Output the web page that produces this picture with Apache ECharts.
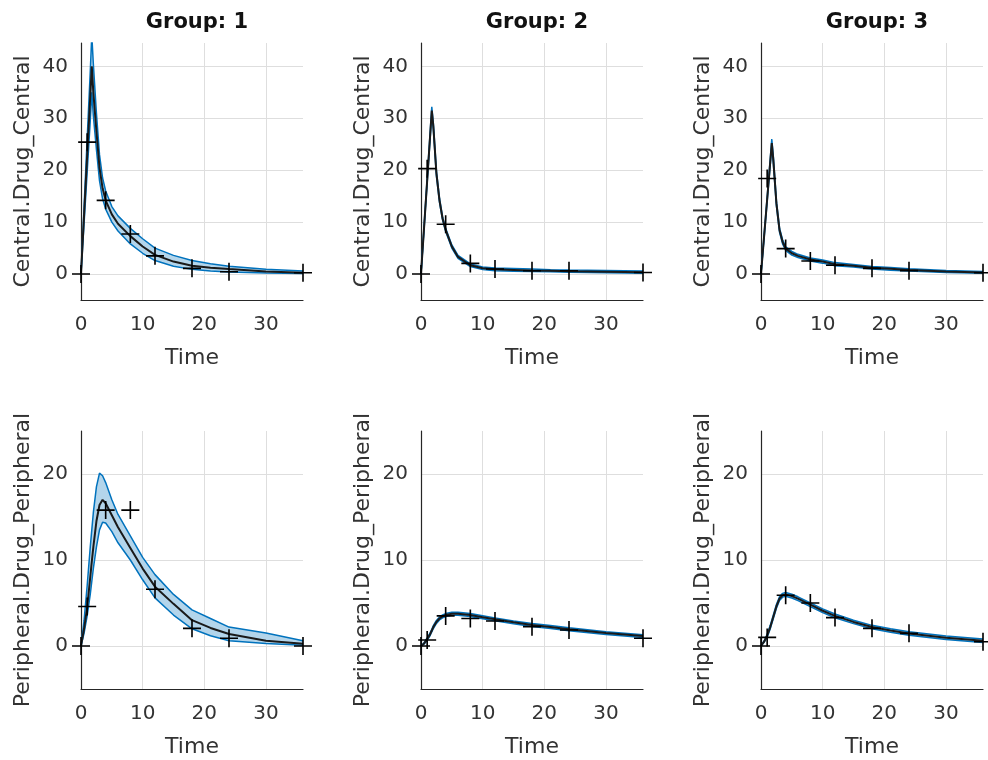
<!DOCTYPE html>
<html>
<head>
<meta charset="utf-8">
<script src="https://cdn.jsdelivr.net/npm/echarts@6/dist/echarts.min.js"></script>
<style>
html,body{margin:0;padding:0;background:#fff;}
#chart{width:988px;height:760px;}
</style>
</head>
<body>
<div id="chart"></div>
<script>
// ---- data ----
const groups = ['Group: 1', 'Group: 2', 'Group: 3'];
const rowNames = ['Central.Drug_Central', 'Peripheral.Drug_Peripheral'];
const xTicks = [0, 10, 20, 30];
const yTicksCentral = [0, 10, 20, 30, 40];
const yTicksPeripheral = [0, 10, 20];

const simTime = [0, 0.5, 1, 1.5, 1.75, 2, 2.5, 3, 3.5, 4, 5, 6, 8, 10, 12, 15, 18, 21, 24, 30, 36];
const obsTime = [0, 1, 4, 8, 12, 18, 24, 36];

// Central, group 1
const c1Mean  = [0, 11.4, 22.8, 34.2, 40, 35, 27.5, 20.5, 16.5, 14.2, 11.5, 9.7, 7.3, 5.3, 3.7, 2.4, 1.6, 1.2, 0.95, 0.5, 0.25];
const c1Upper = [0, 13, 26, 39, 46, 40.5, 31, 23, 18.5, 16, 13, 11.2, 8.8, 6.8, 5.0, 3.6, 2.6, 2.0, 1.5, 0.9, 0.6];
const c1Lower = [0, 9.8, 19.6, 29.5, 35, 30.5, 24, 18, 14.5, 12.5, 10, 8.3, 5.8, 4.0, 2.6, 1.5, 0.9, 0.6, 0.4, 0.2, 0.1];
const c1Obs   = [0, 25.4, 14.2, 7.7, 3.5, 1.1, 0.45, 0.25];
// Central, group 2
const c2Mean  = [0, 9, 18, 27, 31.5, 28.5, 19.4, 14.2, 10.7, 8.5, 5.3, 3.3, 1.7, 1.1, 0.9, 0.8, 0.7, 0.63, 0.55, 0.45, 0.35];
const c2Upper = [0, 9.3, 18.4, 27.6, 32.2, 29.1, 19.9, 14.6, 11.0, 8.8, 5.6, 3.6, 1.95, 1.35, 1.15, 1.05, 0.95, 0.85, 0.77, 0.67, 0.57];
const c2Lower = [0, 8.7, 17.6, 26.4, 30.8, 27.9, 18.9, 13.8, 10.4, 8.2, 5.0, 3.0, 1.45, 0.85, 0.65, 0.55, 0.48, 0.42, 0.35, 0.27, 0.17];
const c2Obs   = [0, 20.3, 9.6, 2.05, 0.96, 0.64, 0.64, 0.3];
// Central, group 3
const c3Mean  = [0, 7.2, 14.4, 21.6, 25.2, 22, 13.6, 8.5, 6.2, 4.9, 4.0, 3.5, 2.8, 2.4, 1.9, 1.6, 1.2, 1.0, 0.8, 0.5, 0.3];
const c3Upper = [0, 7.5, 14.8, 22.2, 26.0, 22.7, 14.1, 8.9, 6.6, 5.25, 4.35, 3.8, 3.1, 2.7, 2.2, 1.85, 1.45, 1.25, 1.0, 0.7, 0.48];
const c3Lower = [0, 6.9, 14.0, 21.0, 24.4, 21.3, 13.1, 8.1, 5.8, 4.55, 3.65, 3.2, 2.5, 2.1, 1.6, 1.35, 0.95, 0.75, 0.6, 0.32, 0.15];
const c3Obs   = [0, 18.4, 4.9, 2.5, 1.7, 1.1, 0.65, 0.25];
// Peripheral, group 1
const p1Mean  = [0, 2, 4.5, 8, 9.8, 11.5, 14.5, 16.4, 17, 16.6, 15.2, 13.8, 11.4, 9.0, 6.9, 4.9, 3.0, 2.1, 1.4, 0.6, 0.25];
const p1Upper = [0, 3, 7, 11.5, 13.5, 15.5, 18.5, 20.1, 19.8, 19, 17, 15.3, 12.8, 10.3, 8.3, 6.0, 4.2, 3.2, 2.2, 1.5, 0.6];
const p1Lower = [0, 1.5, 3.5, 6, 7.5, 9, 11.5, 13.5, 14.4, 14.3, 13.3, 12.0, 10, 7.7, 5.6, 3.6, 2.0, 1.2, 0.6, 0.3, 0.1];
const p1Obs   = [0, 4.6, 15.8, 15.8, 6.6, 2.05, 0.9, 0];
// Peripheral, group 2
const p2Mean  = [0, 0.3, 0.8, 1.4, 1.8, 2.2, 2.8, 3.2, 3.45, 3.6, 3.75, 3.75, 3.6, 3.35, 3.1, 2.75, 2.45, 2.2, 1.95, 1.5, 1.15];
const p2Upper = [0, 0.38, 0.95, 1.55, 1.95, 2.37, 2.97, 3.37, 3.62, 3.77, 3.92, 3.92, 3.77, 3.52, 3.27, 2.92, 2.62, 2.37, 2.12, 1.67, 1.32];
const p2Lower = [0, 0.22, 0.65, 1.25, 1.65, 2.03, 2.63, 3.03, 3.28, 3.43, 3.58, 3.58, 3.43, 3.18, 2.93, 2.58, 2.28, 2.03, 1.78, 1.33, 0.98];
const p2Obs   = [0, 0.7, 3.5, 3.2, 2.9, 2.25, 1.86, 0.9];
// Peripheral, group 3
const p3Mean  = [0, 0.5, 1.2, 2.2, 2.8, 3.4, 4.6, 5.5, 5.9, 6.0, 5.8, 5.5, 4.8, 4.1, 3.5, 2.8, 2.2, 1.8, 1.45, 0.95, 0.6];
const p3Upper = [0, 0.58, 1.37, 2.4, 3.0, 3.62, 4.82, 5.72, 6.12, 6.22, 6.02, 5.72, 5.02, 4.32, 3.72, 3.0, 2.4, 2.0, 1.65, 1.15, 0.8];
const p3Lower = [0, 0.42, 1.03, 2.0, 2.6, 3.18, 4.38, 5.28, 5.68, 5.78, 5.58, 5.28, 4.58, 3.88, 3.28, 2.6, 2.0, 1.6, 1.25, 0.75, 0.42];
const p3Obs   = [0, 1.0, 5.9, 5.0, 3.3, 2.05, 1.47, 0.5];

// ---- layout / style ----
const FONT = 'DejaVu Sans';
const AX = '#262626';
const LBL = '#333333';
const BLUE = '#0072BD';
const FILL = '#b3d5eb';
const CROSS = 'path://M9.1,0 H10.9 V9.1 H20 V10.9 H10.9 V20 H9.1 V10.9 H0 V9.1 H9.1 Z';

const panels = [
  {row: 0, col: 0, mean: c1Mean, up: c1Upper, lo: c1Lower, obs: c1Obs},
  {row: 0, col: 1, mean: c2Mean, up: c2Upper, lo: c2Lower, obs: c2Obs},
  {row: 0, col: 2, mean: c3Mean, up: c3Upper, lo: c3Lower, obs: c3Obs},
  {row: 1, col: 0, mean: p1Mean, up: p1Upper, lo: p1Lower, obs: p1Obs},
  {row: 1, col: 1, mean: p2Mean, up: p2Upper, lo: p2Lower, obs: p2Obs},
  {row: 1, col: 2, mean: p3Mean, up: p3Upper, lo: p3Lower, obs: p3Obs}
];
const gridLeft = [81, 421, 761];
const gridW = 222;
const rowTop = [43, 431];
const rowH = [257, 258];
const yRange = [[-5, 44.5], [-5, 25]];
const ySplit = [5, 3];

function tickFmt(list) {
  return function (v) { return list.indexOf(Math.round(v * 1000) / 1000) >= 0 ? String(v) : ''; };
}

const grid = [], xAxis = [], yAxis = [], series = [], title = [];
panels.forEach(function (p, i) {
  grid.push({left: gridLeft[p.col], top: rowTop[p.row], width: gridW, height: rowH[p.row], containLabel: false});
  xAxis.push({
    type: 'value', gridIndex: i, min: 0, max: 36, interval: 10,
    name: 'Time', nameLocation: 'middle', nameGap: 47,
    nameTextStyle: {fontFamily: FONT, fontSize: 22, color: LBL},
    axisLine: {onZero: false, lineStyle: {color: AX, width: 1.2}},
    axisTick: {show: false},
    axisLabel: {fontFamily: FONT, fontSize: 20, color: LBL, margin: 15, formatter: tickFmt(xTicks)},
    splitLine: {show: true, showMinLine: false, showMaxLine: false, lineStyle: {color: '#dedede', width: 1}}
  });
  const yTicks = p.row === 0 ? yTicksCentral : yTicksPeripheral;
  yAxis.push({
    type: 'value', gridIndex: i, min: yRange[p.row][0], max: yRange[p.row][1], splitNumber: ySplit[p.row],
    name: rowNames[p.row], nameLocation: 'middle', nameGap: 47,
    nameTextStyle: {fontFamily: FONT, fontSize: 22, color: LBL},
    axisLine: {show: true, lineStyle: {color: AX, width: 1.2}},
    axisTick: {show: false},
    axisLabel: {fontFamily: FONT, fontSize: 20, color: LBL, margin: 13, formatter: tickFmt(yTicks)},
    splitLine: {show: true, showMinLine: false, showMaxLine: false, lineStyle: {color: '#dedede', width: 1}}
  });
  if (p.row === 0) {
    title.push({
      text: groups[p.col], left: gridLeft[p.col] + gridW / 2, top: 7, textAlign: 'center',
      textStyle: {fontFamily: FONT, fontSize: 21, fontWeight: 'bold', color: '#111'}
    });
  }
  const bandData = simTime.map(function (t, k) { return [t, p.lo[k], p.up[k]]; });
  // filled confidence band (polygon through the axis scales)
  series.push({
    type: 'custom', xAxisIndex: i, yAxisIndex: i, silent: true, z: 1,
    data: bandData,
    encode: {x: 0, y: [1, 2]},
    renderItem: function (params, api) {
      if (params.dataIndex !== 0) return null;
      const upperPts = bandData.map(function (d) { return api.coord([d[0], d[2]]); });
      const lowerPts = bandData.map(function (d) { return api.coord([d[0], d[1]]); }).reverse();
      const cs = params.coordSys;
      return {
        type: 'polygon',
        shape: {points: upperPts.concat(lowerPts)},
        style: {fill: FILL, stroke: null},
        clipPath: {type: 'rect', shape: {x: cs.x, y: cs.y, width: cs.width, height: cs.height}}
      };
    }
  });
  series.push({
    type: 'line', xAxisIndex: i, yAxisIndex: i, symbol: 'none', silent: true,
    data: simTime.map(function (t, k) { return [t, p.lo[k]]; }),
    lineStyle: {color: BLUE, width: 1.5}, z: 2
  });
  series.push({
    type: 'line', xAxisIndex: i, yAxisIndex: i, symbol: 'none', silent: true,
    data: simTime.map(function (t, k) { return [t, p.up[k]]; }),
    lineStyle: {color: BLUE, width: 1.5}, z: 2
  });
  series.push({
    type: 'line', xAxisIndex: i, yAxisIndex: i, symbol: 'none', silent: true,
    data: simTime.map(function (t, k) { return [t, p.mean[k]]; }),
    lineStyle: {color: '#1a1a1a', width: 2}, z: 3
  });
  series.push({
    type: 'scatter', xAxisIndex: i, yAxisIndex: i, symbol: CROSS, symbolSize: 18, silent: true,
    data: obsTime.map(function (t, k) { return [t, p.obs[k]]; }),
    itemStyle: {color: '#000', opacity: 1}, z: 5, clip: false
  });
});

const chart = echarts.init(document.getElementById('chart'), null, {renderer: 'canvas'});
chart.setOption({
  animation: false,
  backgroundColor: '#fff',
  title: title,
  grid: grid,
  xAxis: xAxis,
  yAxis: yAxis,
  series: series
});
</script>
</body>
</html>
